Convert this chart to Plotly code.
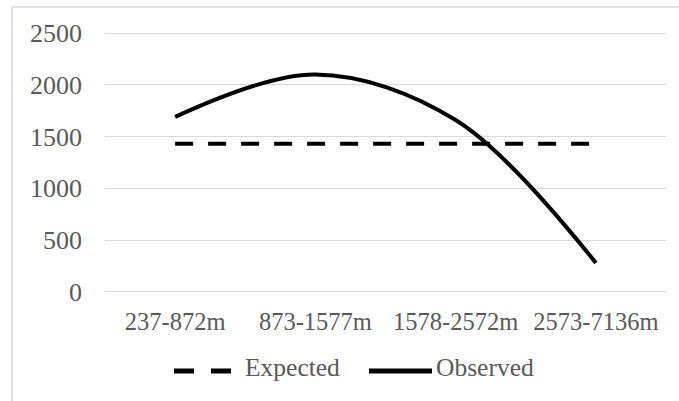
import plotly.graph_objects as go

# Distance bands and counts
categories = ["237-872m", "873-1577m", "1578-2572m", "2573-7136m"]
expected = [1430, 1430, 1430, 1430]
observed = [1690, 2100, 1660, 280]
y_ticks = [0, 500, 1000, 1500, 2000, 2500]

W, H = 679, 401
L, R, T, B = 105, 13, 31, 106
pw, ph = W - L - R, H - T - B

GRAY = "#595959"
SERIF = "Liberation Serif"


def px_x(x):
    return (x - L) / pw


def px_y(y):
    return (H - B - y) / ph


fig = go.Figure()
fig.add_trace(go.Scatter(
    x=categories, y=expected, name="Expected", mode="lines",
    line=dict(color="black", width=4, dash="18px,15px"),
))
fig.add_trace(go.Scatter(
    x=categories, y=observed, name="Observed", mode="lines",
    line=dict(color="black", width=4, shape="spline", smoothing=1.0),
))

# Outer chart-area frame (top and left edges visible)
fig.add_shape(type="line", xref="paper", yref="paper",
              x0=px_x(12), x1=px_x(W + 5), y0=px_y(7), y1=px_y(7),
              line=dict(color="#d9d9d9", width=1.5))
fig.add_shape(type="line", xref="paper", yref="paper",
              x0=px_x(12), x1=px_x(12), y0=px_y(7), y1=px_y(H + 5),
              line=dict(color="#d9d9d9", width=1.5))

# Legend drawn below the plot: sample line + label for each series
ly = px_y(371)
fig.add_shape(type="line", xref="paper", yref="paper",
              x0=px_x(174), x1=px_x(232), y0=ly, y1=ly,
              line=dict(color="black", width=5, dash="20px,17px"))
fig.add_shape(type="line", xref="paper", yref="paper",
              x0=px_x(369), x1=px_x(432), y0=ly, y1=ly,
              line=dict(color="black", width=5))
for name, x0 in [("Expected", 243), ("Observed", 434)]:
    fig.add_annotation(xref="paper", yref="paper", x=px_x(x0), y=px_y(368),
                       xanchor="left", yanchor="middle", text=name,
                       showarrow=False,
                       font=dict(family=SERIF, size=25.5, color=GRAY))

fig.update_layout(
    width=W, height=H,
    margin=dict(l=L, r=R, t=T, b=B, pad=0),
    paper_bgcolor="white", plot_bgcolor="white",
    font=dict(family=SERIF, size=25, color=GRAY),
    showlegend=False,
    xaxis=dict(
        type="category", range=[-0.5, 3.5], showgrid=False, zeroline=False,
        showline=False, ticks="",
        tickfont=dict(family=SERIF, size=24.5, color=GRAY), ticklabelstandoff=9,
    ),
    yaxis=dict(
        range=[-30, 2520], tickvals=y_ticks, showgrid=True, gridcolor="#d9d9d9",
        gridwidth=1.3, zeroline=False, showline=False, ticks="",
        tickfont=dict(family=SERIF, size=26, color=GRAY), ticklabelstandoff=22,
    ),
)

fig.write_html("out.html")
